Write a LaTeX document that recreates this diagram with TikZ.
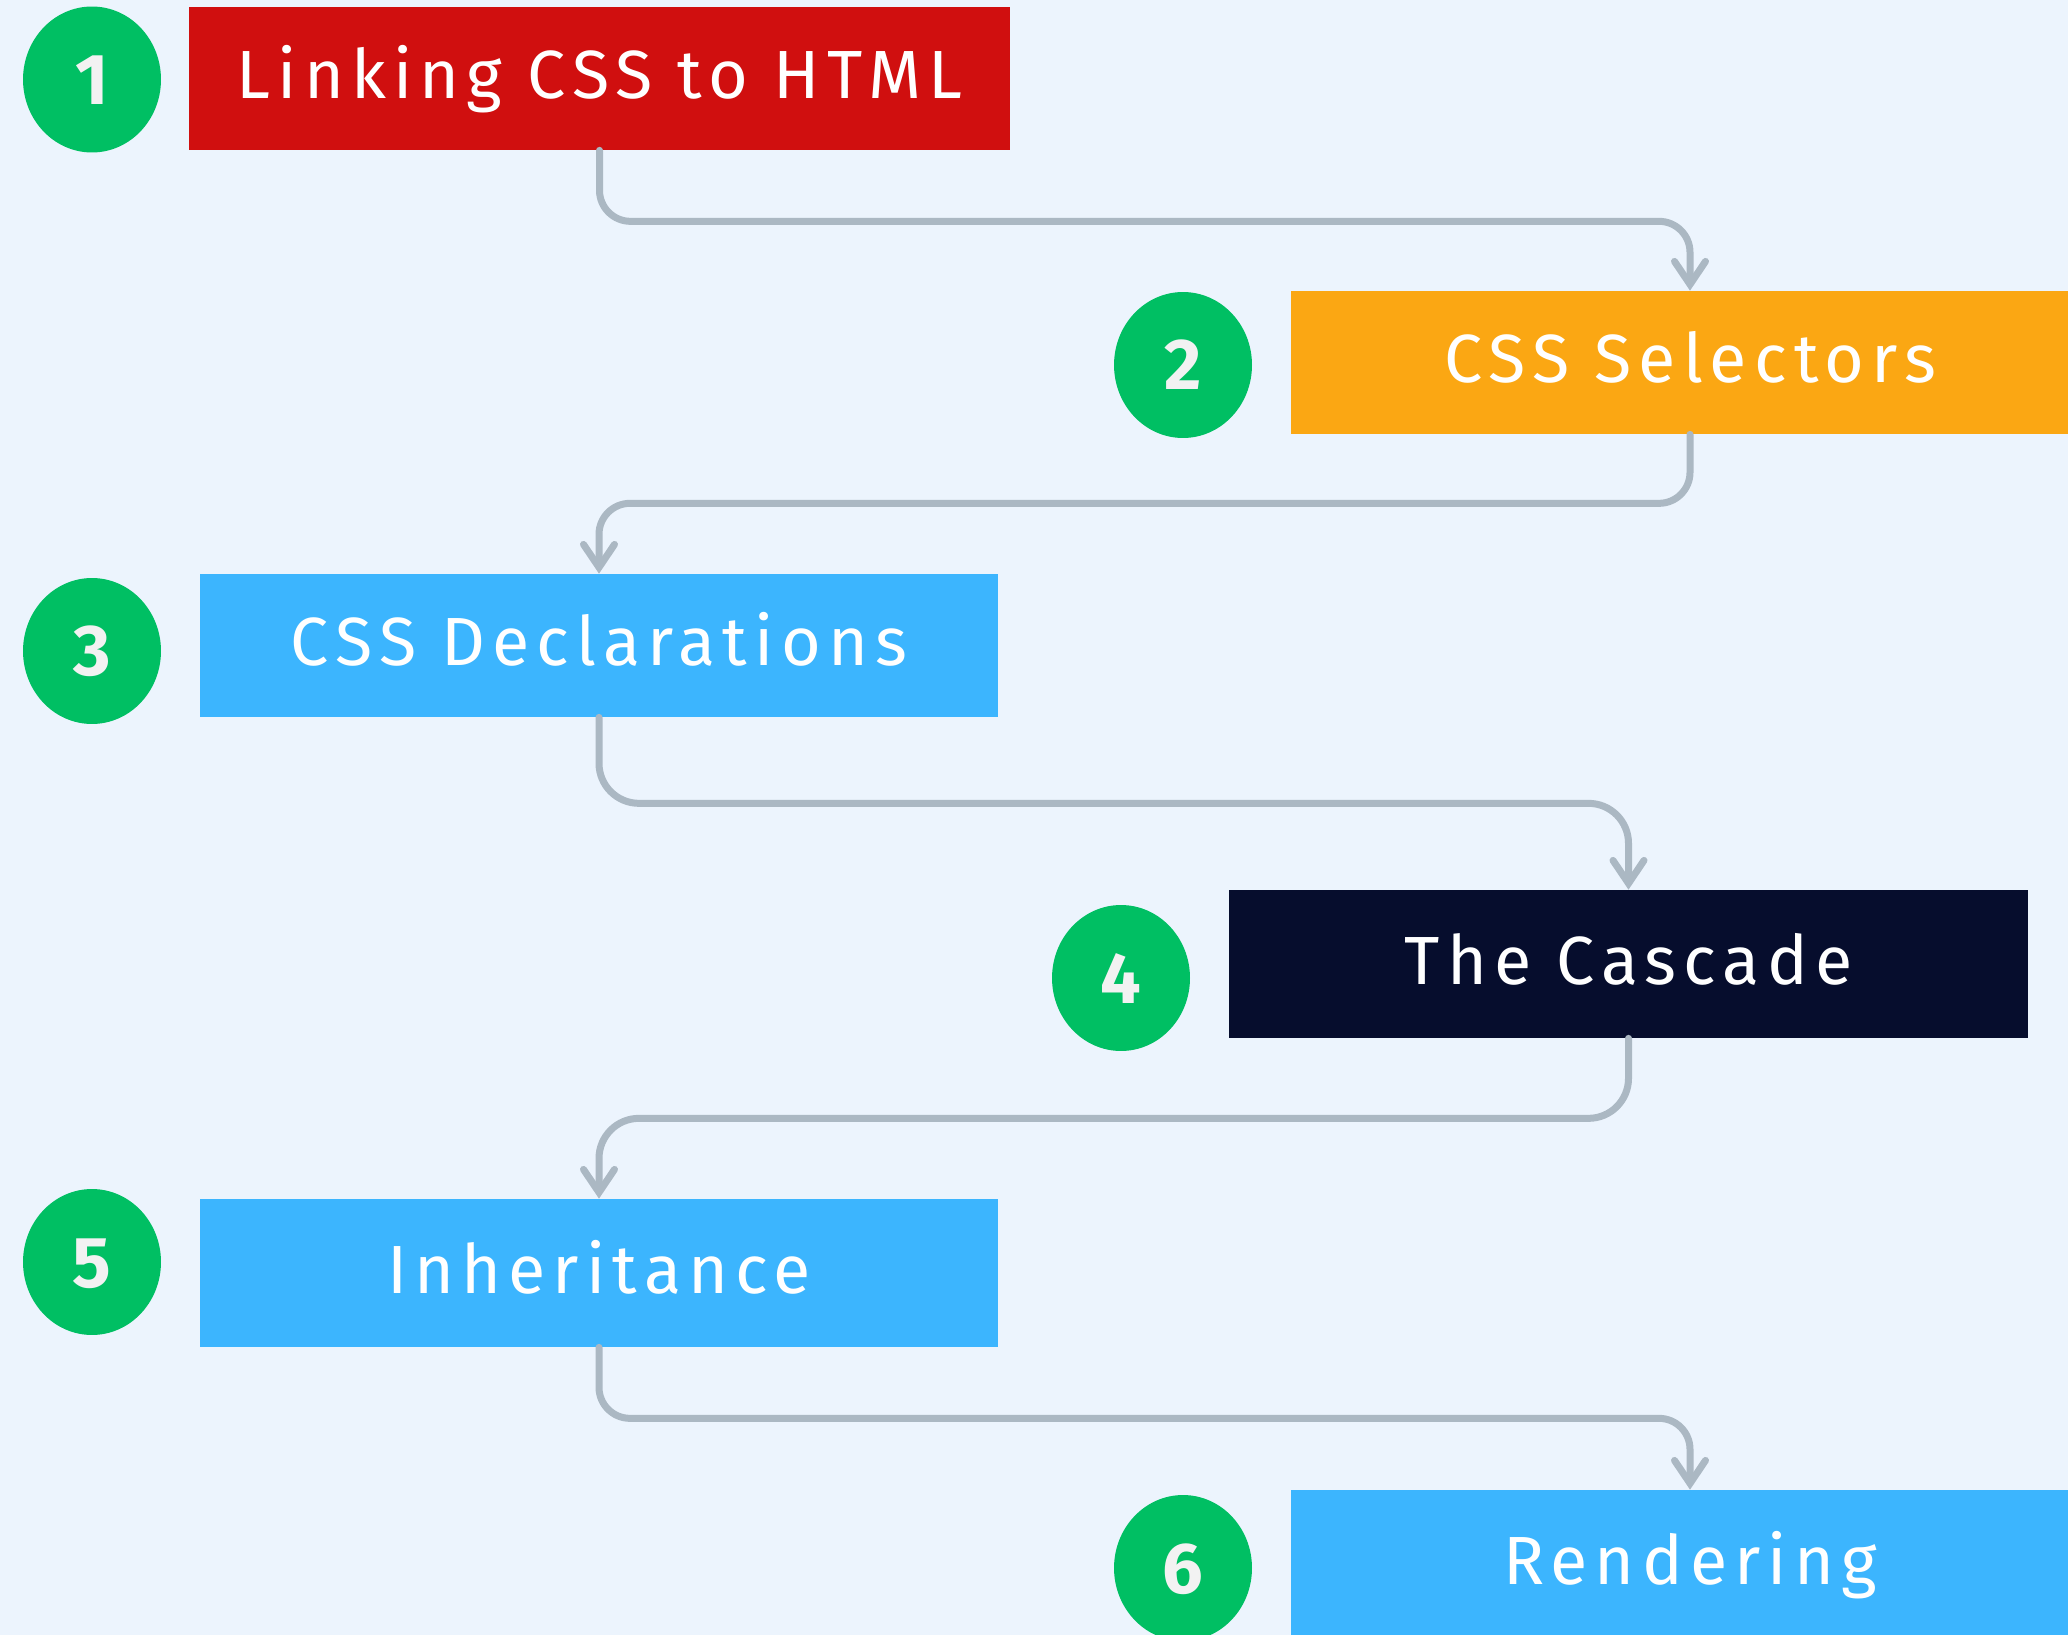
\documentclass[tikz,border=0pt]{standalone}
\usepackage{fontspec}
\setmainfont{Fira Sans}
\newfontfamily\boxfont[LetterSpace=10.5]{Fira Sans}
\newfontfamily\digitfont{Fira Sans}
\usetikzlibrary{arrows.meta,shapes.geometric}
\definecolor{bgc}{HTML}{ECF4FD}
\definecolor{redc}{HTML}{D00F0F}
\definecolor{orangec}{HTML}{FBA713}
\definecolor{bluec}{HTML}{3CB5FE}
\definecolor{navyc}{HTML}{060D2D}
\definecolor{greenc}{HTML}{00BF63}
\definecolor{greyc}{HTML}{ABB8C3}
\definecolor{digitc}{HTML}{F2F2F2}
\begin{document}
\begin{tikzpicture}[x=0.02cm,y=-0.02cm,
  stepbox/.style={rectangle, draw=none, text=white, inner sep=0pt,
    minimum width=15.96cm, minimum height=2.86cm,
    font=\boxfont\fontsize{38.8}{46}\selectfont,
    text height=0.82cm, text depth=0pt},
  badge/.style={ellipse, fill=greenc, inner sep=0pt,
    minimum width=2.76cm, minimum height=2.92cm, text=digitc,
    font=\digitfont\bfseries\fontsize{41}{46}\selectfont,
    text height=1cm, text depth=0pt},
  conn/.style={draw=greyc, line width=0.14cm, line cap=round,
    -{Straight Barb[length=0.46cm, width=0.62cm, line cap=round]}}]
\useasboundingbox (0,0) rectangle (2068,1635);
\clip (0,0) rectangle (2068,1635);
\fill[bgc] (0,0) rectangle (2068,1635);

% numbered badges
\node[badge] (n1) at (92,79.5) {1};
\node[badge] (n2) at (1183,365) {2};
\node[badge] (n3) at (92,651) {3};
\node[badge] (n4) at (1121,978) {4};
\node[badge] (n5) at (92,1262) {5};
\node[badge] (n6) at (1183,1568) {6};

% step boxes
\node[stepbox, fill=redc, minimum width=16.42cm] (b1) at (599.5,78.5) {Linking CSS to HTML};
\node[stepbox, fill=orangec] (b2) at (1690,362.5) {CSS Selectors};
\node[stepbox, fill=bluec] (b3) at (599,645.5) {CSS Declarations};
\node[stepbox, fill=navyc, minimum width=15.98cm, minimum height=2.96cm] (b4) at (1628.5,964) {The Cascade};
\node[stepbox, fill=bluec, minimum height=2.96cm] (b5) at (599,1273) {Inheritance};
\node[stepbox, fill=bluec, minimum height=2.96cm] (b6) at (1690,1564) {Rendering};

% connectors between consecutive steps
\draw[conn, rounded corners=0.62cm] (b1.south) -- ++(0,71) -| (b2.north);
\draw[conn, rounded corners=0.62cm] (b2.south) -- ++(0,69) -| (b3.north);
\draw[conn, rounded corners=0.8cm] (b3.south) -- ++(0,86) -| (b4.north);
\draw[conn, rounded corners=0.8cm] (b4.south) -- ++(0,80) -| (b5.north);
\draw[conn, rounded corners=0.62cm] (b5.south) -- ++(0,71) -| (b6.north);
\end{tikzpicture}
\end{document}
